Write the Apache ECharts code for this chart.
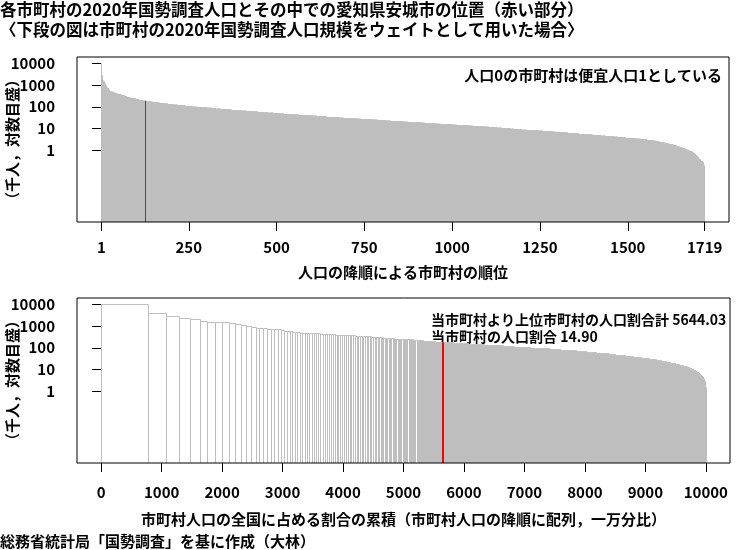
<!DOCTYPE html>
<html><head><meta charset="utf-8">
<script src="https://cdn.jsdelivr.net/npm/echarts@6/dist/echarts.min.js"></script>
<style>html,body{margin:0;padding:0;background:#fff}#c{width:750px;height:550px}</style>
</head><body><div id="c"></div>
<script>
// ---- texts ----
const titleLines = [
  '各市町村の2020年国勢調査人口とその中での愛知県安城市の位置（赤い部分）',
  '〈下段の図は市町村の2020年国勢調査人口規模をウェイトとして用いた場合〉'
];
const yName = '（千人，対数目盛）';
const topXName = '人口の降順による市町村の順位';
const bottomXName = '市町村人口の全国に占める割合の累積（市町村人口の降順に配列，一万分比）';
const noteTop = '人口0の市町村は便宜人口1としている';
const noteBottom1 = '当市町村より上位市町村の人口割合計 5644.03';
const noteBottom2 = '当市町村の人口割合 14.90';
const footer = '総務省統計局「国勢調査」を基に作成（大林）';

// ---- tick labels ----
const topXTicks = [1, 250, 500, 750, 1000, 1250, 1500, 1719];
const bottomXTicks = [0, 1000, 2000, 3000, 4000, 5000, 6000, 7000, 8000, 9000, 10000];
const yTicks = [1, 10, 100, 1000, 10000];

// ---- data: population (thousand persons), descending ----
// ranks 1..127 (rank 127 = 安城市)
const topPop = [
  9733, 3777, 2752, 2332, 1973, 1612, 1538, 1525, 1464, 1324,
  1201, 1097, 975, 939, 826, 791, 789, 739, 726, 725,
  693, 643, 594, 593, 579, 530, 519, 511, 498, 497,
  494, 485, 476, 475, 463, 461, 460, 436, 431, 426,
  422, 417, 414, 409, 403, 401, 401, 397, 389, 385,
  385, 380, 372, 372, 372, 357, 354, 354, 349, 345,
  342, 341, 333, 332, 329, 327, 326, 317, 308, 308,
  306, 304, 303, 289, 283, 281, 275, 274, 271, 269,
  266, 265, 262, 262, 260, 258, 255, 252, 251, 249,
  247, 245, 243, 242, 242, 242, 240, 237, 233, 233,
  230, 229, 226, 223, 223, 223, 215, 211, 206, 203,
  203, 200, 198, 196, 196, 195, 195, 194, 193, 190,
  190, 189, 189, 189, 189, 189, 187.99
];
const highlightRank = 127;
// ranks 128..1719 as runs of (value, number of municipalities)
const tailValues = [
  185, 178, 172, 167, 162, 156, 150, 145, 140, 134, 128, 123,
  119, 114, 109, 104, 101, 97, 93, 89, 86, 82, 78, 75,
  72, 68, 65, 62, 60, 57, 55, 53, 51, 49, 47, 45.5,
  44, 42, 40.5, 39.5, 38.5, 37, 35.5, 34.2, 33.3, 32.3, 31.4, 30.7,
  30, 29.2, 28.4, 27.6, 26.8, 26, 25.1, 24.3, 23.6, 22.9, 22.3, 21.7,
  21.1, 20.4, 19.8, 19.2, 18.8, 18.3, 17.9, 17.5, 17.1, 16.6, 16.2, 15.8,
  15.4, 15, 14.7, 14.4, 14.1, 13.6, 13.2, 12.8, 12.5, 12.1, 11.6, 11.2,
  10.9, 10.5, 10.1, 9.8, 9.5, 9.2, 8.9, 8.6, 8.4, 8.1, 7.9, 7.7,
  7.5, 7.2, 7.0, 6.8, 6.6, 6.3, 6.1, 5.9, 5.7, 5.5, 5.3, 5.1,
  4.9, 4.7, 4.5, 4.35, 4.2, 4.05, 3.9, 3.75, 3.6, 3.5, 3.4, 3.25,
  3.15, 3.0, 2.9, 2.75, 2.65, 2.55, 2.45, 2.38, 2.3, 2.2, 2.1, 2.02,
  1.95, 1.85, 1.75, 1.65, 1.55, 1.48, 1.4, 1.32, 1.25, 1.18, 1.12, 1.06,
  1.02, 0.97, 0.92, 0.87, 0.82, 0.75, 0.68, 0.62, 0.57, 0.52, 0.48, 0.45,
  0.42, 0.39, 0.36, 0.33, 0.31, 0.29, 0.26, 0.21, 0.169, 0
];
const tailCounts = [
  6, 6, 6, 5, 7, 8, 8, 7, 9, 10, 10, 9,
  10, 11, 11, 10, 13, 13, 14, 13, 14, 14, 15, 14,
  15, 15, 15, 15, 15, 15, 15, 15, 15, 15, 15, 14,
  13, 13, 13, 12, 14, 14, 14, 14, 11, 11, 11, 11,
  13, 13, 13, 13, 12, 12, 12, 12, 12, 11, 12, 11,
  14, 13, 14, 13, 10, 10, 10, 10, 13, 12, 13, 12,
  11, 11, 11, 11, 12, 11, 12, 11, 12, 12, 12, 12,
  12, 12, 12, 11, 12, 11, 12, 11, 12, 12, 13, 12,
  12, 12, 12, 11, 11, 11, 11, 10, 13, 12, 13, 12,
  13, 12, 13, 12, 11, 11, 11, 11, 10, 10, 11, 10,
  9, 9, 9, 8, 5, 5, 5, 5, 5, 4, 5, 4,
  6, 5, 6, 5, 4, 4, 4, 4, 4, 3, 4, 3,
  4, 3, 4, 3, 3, 3, 3, 2, 2, 2, 2, 1,
  2, 2, 2, 2, 2, 2, 2, 1, 1, 1
];
const zeroPopDisplay = 0.001; // 人口0 → 便宜人口1人

// ---- build ----
const pop = topPop.slice();
tailValues.forEach((v, k) => { for (let j = 0; j < tailCounts[k]; j++) pop.push(v); });
const total = pop.reduce((a, b) => a + b, 0);
const topData = pop.map((v, i) => [i + 1, Math.max(v, zeroPopDisplay)]);
let cum = 0;
const bottomData = pop.map((v, i) => {
  const s = cum; cum += v / total * 10000;
  return [s, cum, Math.max(v, zeroPopDisplay), i + 1];
});

const FONT = '"Noto Sans CJK JP", "Noto Sans", sans-serif';
const GREY = '#BEBEBE', RED = '#FF0000';
const txt = { fontFamily: FONT, fontSize: 15, fontWeight: 'bold', color: '#000' };
const gfont = 'bold 15px ' + FONT;
const gfontSmall = 'bold 14px ' + FONT;

function renderTop(params, api) {
  const r = api.value(0), v = api.value(1);
  const cs = params.coordSys;
  const p0 = api.coord([r - 0.5, v]), p1 = api.coord([r + 0.5, v]);
  const base = cs.y + cs.height;
  const hl = r === highlightRank;
  let x0 = Math.floor(p0[0]), x1 = Math.ceil(p1[0]);
  if (hl) { x0 = Math.floor((p0[0] + p1[0]) / 2); x1 = x0 + 1; }
  return { type: 'rect', z2: hl ? 10 : 0,
    shape: { x: x0, y: p0[1], width: Math.max(1, x1 - x0), height: base - p0[1] },
    style: { fill: hl ? RED : GREY } };
}
function renderBottom(params, api) {
  const s = api.value(0), e = api.value(1), v = api.value(2), r = api.value(3);
  const cs = params.coordSys;
  const p0 = api.coord([s, v]), p1 = api.coord([e, v]);
  const base = cs.y + cs.height;
  const hl = r === highlightRank;
  const x0 = Math.round(p0[0]) + 0.5;
  let x1 = Math.round(p1[0]) + 0.5;
  if (hl && x1 - x0 < 1) x1 = x0 + 1;
  const y = Math.round(p0[1]) + 0.5;
  return { type: 'rect', z2: hl ? 10 : 0,
    shape: { x: x0, y: y, width: x1 - x0, height: base + 2 - y },
    style: { fill: hl ? RED : '#FFFFFF', stroke: hl ? RED : GREY, lineWidth: 1 } };
}

const yAxisCommon = {
  type: 'log', logBase: 10, min: Math.pow(10, -3.28), max: Math.pow(10, 4.28),
  axisLine: { show: false }, splitLine: { show: false },
  axisTick: { show: true, length: 9, customValues: yTicks, lineStyle: { color: '#000' } },
  axisLabel: Object.assign({ customValues: yTicks, margin: 22, formatter: v => String(Math.round(v)) }, txt)
};

const chart = echarts.init(document.getElementById('c'), null, { renderer: 'canvas' });
chart.setOption({
  animation: false,
  backgroundColor: '#fff',
  title: { text: titleLines.join('\n'), left: 0, top: 0, padding: 0,
    textStyle: { fontFamily: FONT, fontSize: 16.5, fontWeight: 'bold', lineHeight: 20, color: '#000' } },
  grid: [
    { left: 77, top: 57, width: 652, height: 165, show: true, borderColor: '#000', borderWidth: 1, backgroundColor: 'transparent', z: 10, containLabel: false, outerBoundsMode: 'none' },
    { left: 77, top: 298, width: 653, height: 165, show: true, borderColor: '#000', borderWidth: 1, backgroundColor: 'transparent', z: 10, containLabel: false, outerBoundsMode: 'none' }
  ],
  xAxis: [
    { gridIndex: 0, type: 'value', min: -68.26, max: 1788.26,
      axisLine: { show: false }, splitLine: { show: false },
      axisTick: { show: true, length: 9, customValues: topXTicks, lineStyle: { color: '#000' } },
      axisLabel: Object.assign({ customValues: topXTicks, margin: 18, formatter: v => String(v) }, txt),
      name: topXName, nameLocation: 'middle', nameGap: 50,
      nameTextStyle: Object.assign({ verticalAlign: 'middle' }, txt) },
    { gridIndex: 1, type: 'value', min: -400, max: 10400,
      axisLine: { show: false }, splitLine: { show: false },
      axisTick: { show: true, length: 9, customValues: bottomXTicks, lineStyle: { color: '#000' } },
      axisLabel: Object.assign({ customValues: bottomXTicks, margin: 22, formatter: v => String(v) }, txt),
      name: bottomXName, nameLocation: 'middle', nameGap: 56,
      nameTextStyle: Object.assign({ verticalAlign: 'middle' }, txt) }
  ],
  yAxis: [
    Object.assign({ gridIndex: 0 }, yAxisCommon),
    Object.assign({ gridIndex: 1 }, yAxisCommon)
  ],
  series: [
    { type: 'custom', xAxisIndex: 0, yAxisIndex: 0, data: topData, encode: { x: 0, y: 1 },
      renderItem: renderTop, silent: true, progressive: 0, clip: true },
    { type: 'custom', xAxisIndex: 1, yAxisIndex: 1, data: bottomData, encode: { x: [0, 1], y: 2 },
      renderItem: renderBottom, silent: true, progressive: 0, clip: true }
  ],
  graphic: [
    { type: 'text', x: 12, y: 139.5, rotation: Math.PI / 2, style: { text: yName, font: gfont, fill: '#000', align: 'center', verticalAlign: 'middle' } },
    { type: 'text', x: 12, y: 380.5, rotation: Math.PI / 2, style: { text: yName, font: gfont, fill: '#000', align: 'center', verticalAlign: 'middle' } },
    { type: 'text', x: 722, y: 75, style: { text: noteTop, font: gfont, fill: '#000', align: 'right', verticalAlign: 'middle' } },
    { type: 'text', x: 431, y: 320, style: { text: noteBottom1, font: gfontSmall, fill: '#000', align: 'left', verticalAlign: 'middle' } },
    { type: 'text', x: 431, y: 337, style: { text: noteBottom2, font: gfontSmall, fill: '#000', align: 'left', verticalAlign: 'middle' } },
    { type: 'text', x: 0, y: 541, style: { text: footer, font: gfont, fill: '#000', align: 'left', verticalAlign: 'middle' } }
  ]
});
</script></body></html>
